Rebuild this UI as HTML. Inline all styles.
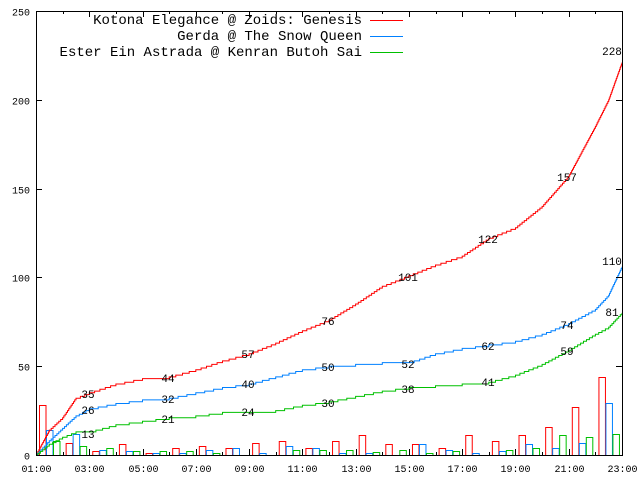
<!DOCTYPE html>
<html><head><meta charset="utf-8"><style>
html,body{margin:0;padding:0;background:#fff}
svg{display:block}
text{font-family:"Liberation Mono",monospace;fill:#000}
</style></head><body>
<svg id="s" width="640" height="480" viewBox="0 0 640 480" xmlns="http://www.w3.org/2000/svg">
<g id="bars" fill="none" stroke-width="1"></g>
<g id="lines" fill="none" stroke-width="1"></g>
<g id="axes" stroke="#000" fill="none" stroke-width="1"></g>
<g id="txt"></g>
<g font-size="14">
<text x="362" y="24" text-anchor="end">Kotona Elegance @ Zoids: Genesis</text>
<text x="362" y="40" text-anchor="end">Gerda @ The Snow Queen</text>
<text x="362" y="56" text-anchor="end">Ester Ein Astrada @ Kenran Butoh Sai</text>
</g>
<line x1="370" y1="20.5" x2="403" y2="20.5" stroke="#ff0000"/>
<line x1="370" y1="36.5" x2="403" y2="36.5" stroke="#0080ff"/>
<line x1="370" y1="52.5" x2="403" y2="52.5" stroke="#00c000"/>
</svg>
<script>
var NS="http://www.w3.org/2000/svg";
function el(p,t,a,txt){var e=document.createElementNS(NS,t);for(var k in a)e.setAttribute(k,a[k]);if(txt!=null)e.textContent=txt;p.appendChild(e);return e;}
var L=36,R=622,T=11,B=455;
function X(h){return L+(h-1)*(R-L)/22;}
function Y(v){return B-v*(B-T)/250;}
var C=["#ff0000","#0080ff","#00c000"];
// bars: pixel heights
var bh=[[50,25,14],[12,21,9],[4,5,7],[11,4,4],[2,2,4],[7,2,4],[9,5,2],[7,7,0],[12,2,0],[14,9,5],[7,7,5],[14,2,5],[20,2,3],[11,0,5],[11,11,2],[7,5,4],[20,2,0],[14,4,5],[20,11,7],[28,7,20],[48,12,18],[78,52,21]];
var bg=document.getElementById("bars");
for(var i=0;i<bh.length;i++){for(var j=0;j<3;j++){var h=bh[i][j];if(h<=0)continue;var x=39+26.64*i+j*7;
el(bg,"rect",{x:x+0.5,y:B-h+0.5,width:6.5,height:h,stroke:C[j]});}}
var knots=[
[[1,0],[1.5,14],[2,21],[2.5,32],[3,35],[4,40],[5,43],[6,44],[7,48],[8,53],[9,57],[10,63],[11,70],[12,76],[13,85],[14,95],[15,101],[16,107],[17,112],[18,122],[19,128],[20,140],[21,157],[22,185],[22.5,200],[23,221]],
[[1,0],[1.5,8],[2,15],[2.5,22],[3,26],[4,29],[5,31],[6,32],[7,35],[8,38],[9,40],[10,44],[11,48],[12,50],[13,51],[14,52],[15,52],[16,57],[17,60],[18,62],[19,64],[20,68],[21,74],[22,82],[22.5,90],[23,106]],
[[1,0],[1.5,6],[2,10],[2.5,13],[3,13],[4,17],[5,19],[6,21],[7,22],[8,24],[9,24],[10,25],[11,28],[12,30],[13,33],[14,36],[15,38],[16,39],[17,40],[18,41],[19,45],[20,51],[21,59],[22,68],[22.5,72],[23,80]]];
var lg=document.getElementById("lines");
knots.forEach(function(k,ci){
 var d="M"+X(1)+","+Y(0);var cur=0;
 for(var n=1;n<k.length;n++){var h0=k[n-1][0],v0=k[n-1][1],h1=k[n][0],v1=k[n][1];
  for(var v=Math.floor(cur)+1;v<=v1;v++){var f=(v-v0)/(v1-v0);var h=h0+f*(h1-h0);
   d+=" H"+X(h).toFixed(1)+" V"+Y(v).toFixed(1);cur=v;}}
 d+=" H"+R;
 el(lg,"path",{d:d,stroke:C[ci]});
});
var lab=[[35,44,57,76,101,122,157,228],[26,32,40,50,52,62,74,110],[13,21,24,30,38,41,59,81]];
var lx=[88,168,248,328,408,488,567,612];
var ly=[[394,378,354,321,277,239,177,51],[410,399,384,367,364,346,325,261],[434,419,412,403,389,382,351,312]];
var tg=document.getElementById("txt");
for(var c=0;c<3;c++)for(var i=0;i<8;i++)el(tg,"text",{x:lx[i],y:ly[c][i]+4,"text-anchor":"middle","font-size":"11"},lab[c][i]);
var ag=document.getElementById("axes");
el(ag,"rect",{x:L+0.5,y:T+0.5,width:R-L,height:B-T});
for(var v=0;v<=250;v+=50){var y=Math.round(Y(v))+0.5;
 el(ag,"line",{x1:L,y1:y,x2:L+6,y2:y});el(ag,"line",{x1:R-6,y1:y,x2:R,y2:y});
 el(tg,"text",{x:30,y:y+4,"text-anchor":"end","font-size":"10"},v);}
for(var h=1;h<=23;h++){var x=Math.round(X(h))+0.5;var big=(h%2==1);var len=big?6:3;
 el(ag,"line",{x1:x,y1:B,x2:x,y2:B-len});el(ag,"line",{x1:x,y1:T,x2:x,y2:T+len});
 if(big)el(tg,"text",{x:x,y:472,"text-anchor":"middle","font-size":"10"},(h<10?"0":"")+h+":00");}
</script>
</body></html>
